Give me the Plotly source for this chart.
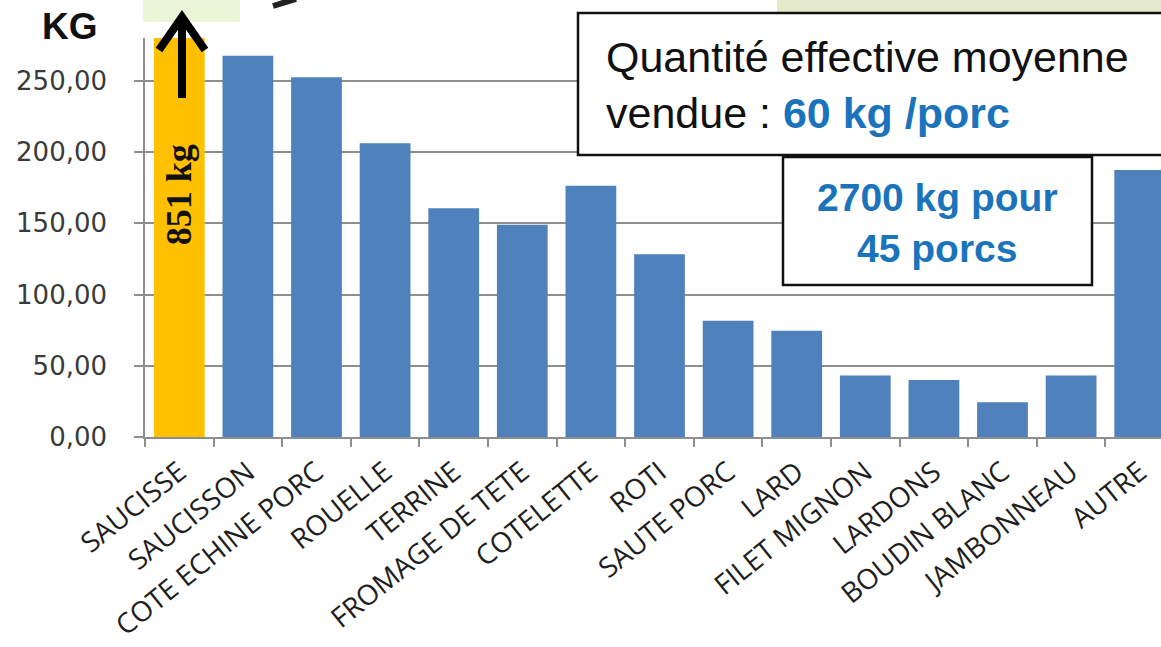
import plotly.graph_objects as go

# Quantités vendues par produit (kg)
CATEGORIES = [
    "SAUCISSE", "SAUCISSON", "COTE ECHINE PORC", "ROUELLE", "TERRINE",
    "FROMAGE DE TETE", "COTELETTE", "ROTI", "SAUTE PORC", "LARD",
    "FILET MIGNON", "LARDONS", "BOUDIN BLANC", "JAMBONNEAU", "AUTRE",
]
VALUES_KG = [851, 267.6, 252.5, 206.2, 160.6, 148.9, 176.4, 128.3,
             81.6, 74.6, 43.2, 40.0, 24.3, 43.2, 187.4]
HIGHLIGHT = "SAUCISSE"

Y_TICKS = [0, 50, 100, 150, 200, 250]
Y_TICK_LABELS = ["0,00", "50,00", "100,00", "150,00", "200,00", "250,00"]

BLUE = "#4f81bd"
ORANGE = "#ffc000"
TEXT_BLUE = "#1b74bb"
GRID = "#8e8e8e"

W, H = 1161, 647
M_L, M_R, M_T, M_B = 145, 0, 38, 210
PLOT_W = W - M_L - M_R
PLOT_H = H - M_T - M_B


def px_x(px):
    """Horizontal pixel -> paper coordinate."""
    return (px - M_L) / PLOT_W


def px_y(py):
    """Vertical pixel (from top) -> paper coordinate."""
    return (H - M_B - py) / PLOT_H


colors = [ORANGE if c == HIGHLIGHT else BLUE for c in CATEGORIES]

fig = go.Figure(
    go.Bar(
        x=CATEGORIES,
        y=VALUES_KG,
        marker=dict(color=colors, line=dict(width=0)),
        hoverinfo="x+y",
    )
)

# category spacing ~68.6 px; the last bar runs off the right edge
n_visible = PLOT_W / 68.6
fig.update_xaxes(
    type="category",
    range=[-0.5, -0.5 + n_visible],
    automargin=False,
    showgrid=False,
    showline=True,
    linecolor=GRID,
    linewidth=1.5,
    ticks="outside",
    tickson="boundaries",
    ticklen=8,
    tickwidth=1.5,
    tickcolor=GRID,
    tickangle=-39,
    ticklabelstandoff=6,
    tickfont=dict(family="Open Sans", size=28, color="#1e1e1e"),
)
fig.update_yaxes(
    range=[0, 280],
    automargin=False,
    tickvals=Y_TICKS,
    ticktext=Y_TICK_LABELS,
    showgrid=True,
    gridcolor=GRID,
    gridwidth=1.5,
    zeroline=False,
    showline=True,
    linecolor=GRID,
    linewidth=1.5,
    ticks="outside",
    ticklen=9,
    tickwidth=1.5,
    tickcolor=GRID,
    ticklabelstandoff=22,
    tickfont=dict(family="DejaVu Sans", size=26, color="#3a3a3a"),
)

shapes = []
# pale green tab and band along the top edge
shapes.append(dict(type="rect", xref="paper", yref="paper",
                   x0=px_x(143), x1=px_x(240), y0=px_y(22), y1=px_y(-2),
                   fillcolor="#ebf5d7", line=dict(width=0), layer="below"))
shapes.append(dict(type="rect", xref="paper", yref="paper",
                   x0=px_x(777), x1=px_x(1170), y0=px_y(12), y1=px_y(-2),
                   fillcolor="#e4eacb", line=dict(width=0), layer="below"))
# dark brush stroke at the top
shapes.append(dict(type="line", xref="paper", yref="paper",
                   x0=px_x(273), y0=px_y(6), x1=px_x(296), y1=px_y(-1),
                   line=dict(color="#222222", width=6)))

# upward arrow on the highlighted bar
ax = px_x(182)
shapes.append(dict(type="path", xref="paper", yref="paper",
                   path=(f"M {ax},{px_y(98)} L {ax},{px_y(17)} "
                         f"M {px_x(159)},{px_y(50)} L {ax},{px_y(17)} L {px_x(205)},{px_y(50)}"),
                   line=dict(color="#000000", width=8)))

# text boxes
shapes.append(dict(type="rect", xref="paper", yref="paper",
                   x0=px_x(578), x1=px_x(1175), y0=px_y(155), y1=px_y(13),
                   fillcolor="white", line=dict(color="#111111", width=2.5),
                   layer="above"))
shapes.append(dict(type="rect", xref="paper", yref="paper",
                   x0=px_x(783), x1=px_x(1092), y0=px_y(285), y1=px_y(157),
                   fillcolor="white", line=dict(color="#111111", width=2.5),
                   layer="above"))

annotations = [
    dict(text="<b>KG</b>", xref="paper", yref="paper",
         x=px_x(70), y=px_y(27), xanchor="center", yanchor="middle",
         showarrow=False, font=dict(family="Liberation Sans", size=37, color="#111111")),
    dict(text=f"<b>{VALUES_KG[CATEGORIES.index(HIGHLIGHT)]:.0f} kg</b>",
         xref="x", yref="paper", x=HIGHLIGHT, y=px_y(195),
         xanchor="center", yanchor="middle", textangle=-90, showarrow=False,
         font=dict(family="Liberation Serif", size=36, color="#111111")),
    dict(text=("Quantité effective moyenne<br>vendue : "
               f"<b><span style='color:{TEXT_BLUE}'>60 kg /porc</span></b>"),
         xref="paper", yref="paper", x=px_x(604), y=px_y(85),
         xanchor="left", yanchor="middle", align="left", showarrow=False,
         font=dict(family="Liberation Sans", size=43, color="#111111")),
    dict(text="<b>2700 kg pour<br>45 porcs</b>",
         xref="paper", yref="paper", x=px_x(937), y=px_y(223),
         xanchor="center", yanchor="middle", align="center", showarrow=False,
         font=dict(family="Liberation Sans", size=39, color=TEXT_BLUE)),
]

fig.update_layout(
    width=W,
    height=H,
    autosize=False,
    margin=dict(l=M_L, r=M_R, t=M_T, b=M_B, pad=0, autoexpand=False),
    paper_bgcolor="white",
    plot_bgcolor="white",
    bargap=0.26,
    showlegend=False,
    shapes=shapes,
    annotations=annotations,
)

fig.write_html("out.html")
